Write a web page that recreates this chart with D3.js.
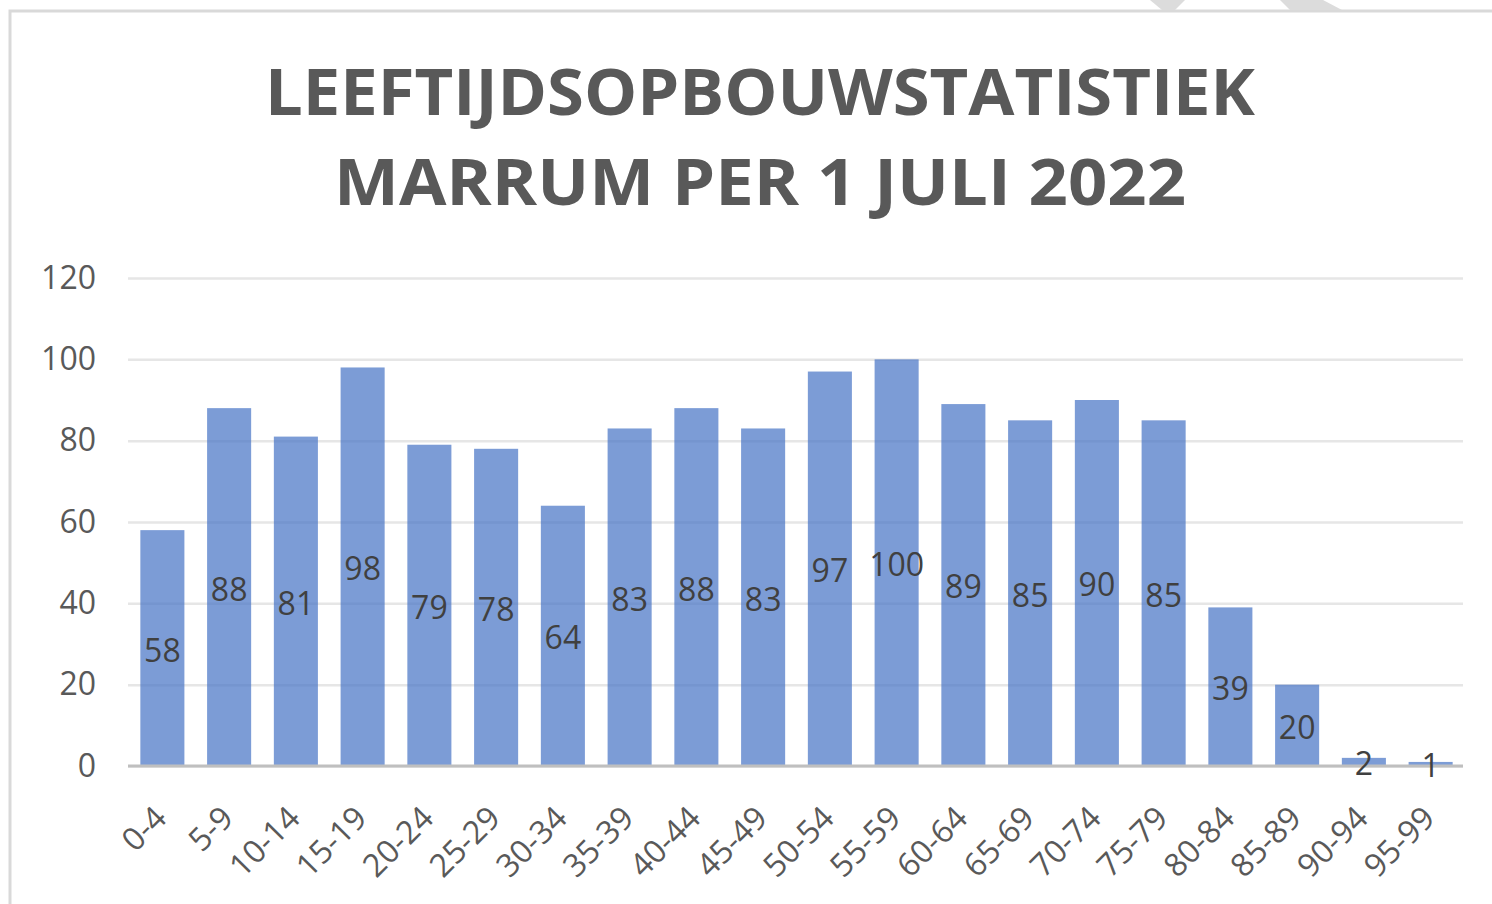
<!DOCTYPE html>
<html>
<head>
<meta charset="utf-8">
<script src="https://cdn.jsdelivr.net/npm/d3@7"></script>
<style>
  html, body { margin: 0; padding: 0; background: #fff; }
  svg { display: block; font-family: "Open Sans", "Noto Sans", sans-serif; }
</style>
</head>
<body>
<svg id="chart" width="1492" height="904"></svg>
<script>
// leeftijdsgroepen en aantallen
var categories = ["0-4","5-9","10-14","15-19","20-24","25-29","30-34","35-39","40-44","45-49",
                  "50-54","55-59","60-64","65-69","70-74","75-79","80-84","85-89","90-94","95-99"];
var counts = [58, 88, 81, 98, 79, 78, 64, 83, 88, 83, 97, 100, 89, 85, 90, 85, 39, 20, 2, 1];
var yTicks = [0, 20, 40, 60, 80, 100, 120];
var titleLines = ["LEEFTIJDSOPBOUWSTATISTIEK", "MARRUM PER 1 JULI 2022"];

var svg = d3.select('#chart');

// frame of the chart area (left and top edge only visible)
svg.append('path')
    .attr('d', 'M10,904 L10,11 L1492,11')
    .attr('fill', 'none')
    .attr('stroke', '#d9d9d9')
    .attr('stroke-width', 3);

// bits of a cut-off watermark at the top
svg.append('polygon').attr('points', '1150,0 1185,0 1175,10 1162,10').attr('fill', '#dcdcdc');
svg.append('polygon').attr('points', '1280,0 1323,0 1342,10 1290,10').attr('fill', '#dcdcdc');

// title
svg.selectAll('text.title').data(titleLines).enter().append('text')
    .attr('class', 'title')
    .attr('x', 760)
    .attr('y', function(d, i){ return 115 + i * 90; })
    .attr('text-anchor', 'middle')
    .attr('font-size', 64)
    .attr('font-weight', 'bold')
    .attr('fill', '#595959')
    .attr('textLength', function(d, i){ return i == 0 ? 990 : 852; })
    .attr('lengthAdjust', 'spacingAndGlyphs')
    .text(function(d){ return d; });

var x = d3.scaleBand().domain(categories).range([129, 1464]).paddingInner(0.34).paddingOuter(0.17);
var y = d3.scaleLinear().domain([0, 120]).range([766, 278]);

// gridlines + y labels
var yAxis = svg.append('g')
    .attr('transform', 'translate(128,0)')
    .call(d3.axisLeft(y).tickValues(yTicks).tickSize(-(1463 - 128)).tickPadding(32));
yAxis.select('.domain').remove();
yAxis.selectAll('.tick line').attr('stroke', '#e6e6e6').attr('stroke-width', 2.5);
yAxis.selectAll('.tick text')
    .attr('font-size', 32)
    .attr('fill', '#595959')
    .attr('font-family', '"Open Sans", sans-serif');

// bars
svg.append('g').selectAll('rect').data(counts).enter().append('rect')
    .attr('x', function(d, i){ return x(categories[i]); })
    .attr('y', function(d){ return y(d); })
    .attr('width', x.bandwidth())
    .attr('height', function(d){ return y(0) - y(d); })
    .attr('fill', '#4472c4')
    .attr('fill-opacity', 0.7);

// x axis line
svg.append('line')
    .attr('x1', 128).attr('x2', 1463)
    .attr('y1', y(0)).attr('y2', y(0))
    .attr('stroke', '#bfbfbf')
    .attr('stroke-width', 3);

// data labels in the middle of each bar
svg.append('g').selectAll('text').data(counts).enter().append('text')
    .attr('x', function(d, i){ return x(categories[i]) + x.bandwidth() / 2; })
    .attr('y', function(d){ return (y(d) + y(0)) / 2; })
    .attr('dy', '0.42em')
    .attr('text-anchor', 'middle')
    .attr('font-size', 32)
    .attr('fill', '#404040')
    .text(function(d){ return d; });

// category labels, rotated
svg.append('g').selectAll('text').data(categories).enter().append('text')
    .attr('transform', function(d){
        return 'translate(' + (x(d) + x.bandwidth() / 2 + 6) + ',' + (y(0) + 54) + ') rotate(-45)';
    })
    .attr('text-anchor', 'end')
    .attr('font-size', 32)
    .attr('fill', '#595959')
    .text(function(d){ return d; });
</script>
</body>
</html>
